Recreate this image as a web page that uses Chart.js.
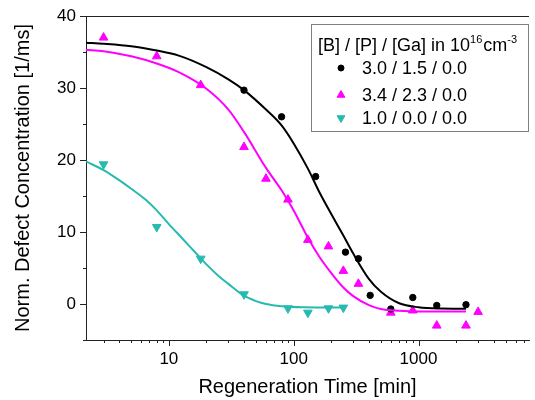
<!DOCTYPE html>
<html>
<head>
<meta charset="utf-8">
<script src="https://cdn.jsdelivr.net/npm/chart.js@4.4.1/dist/chart.umd.min.js"></script>
<style>
  html, body { margin: 0; padding: 0; background: #fff; }
  canvas { display: block; }
</style>
</head>
<body>
<canvas id="chartRegen" width="535" height="400"></canvas>
<script>
// measured points, regeneration time [min] vs norm. defect concentration [1/ms]
var blackT = [40, 80, 150, 260, 330, 410, 600, 900, 1400, 2400];
var blackY = [29.7, 26.0, 17.7, 7.2, 6.3, 1.2, -0.7, 0.9, -0.2, -0.1];

var magT = [3, 8, 18, 40, 60, 90, 130, 190, 250, 330, 600, 900, 1400, 2400, 3000];
var magY = [37.0, 34.4, 30.4, 21.8, 17.4, 14.5, 8.9, 8.0, 4.6, 2.8, -1.2, -0.9, -3.0, -3.0, -1.1];

var cyanT = [3, 8, 18, 40, 90, 130, 190, 250];
var cyanY = [19.4, 10.7, 6.3, 1.35, -0.6, -1.2, -0.6, -0.5];

// fit curves
var blackFitT = [2.17, 3, 5, 8, 12, 20, 30, 40, 60, 80, 100, 130, 160, 200, 250, 300, 400, 500, 700, 1000, 1500, 2400];
var blackFitY = [36.3, 36.15, 35.8, 35.2, 34.5, 32.9, 31.2, 29.7, 27.0, 24.8, 22.3, 18.8, 15.6, 12.5, 9.5, 7.0, 3.5, 1.7, 0.1, -0.45, -0.62, -0.65];

var magFitT = [2.17, 3, 5, 8, 12, 20, 30, 40, 60, 80, 100, 130, 160, 200, 250, 300, 400, 500, 700, 1000, 1500, 2400];
var magFitY = [35.3, 35.1, 34.4, 33.4, 32.2, 29.9, 27.0, 23.9, 18.9, 15.8, 13.0, 9.2, 6.6, 4.3, 2.3, 1.1, -0.15, -0.7, -0.95, -1.05, -1.05, -1.05];

var cyanFitT = [2.17, 3, 4, 5, 6.5, 8, 10, 13, 17, 20, 25, 30, 40, 50, 60, 80, 120, 255];
var cyanFitY = [19.8, 18.6, 17.2, 16.0, 14.5, 13.0, 11.1, 9.0, 6.8, 5.5, 3.9, 2.8, 1.15, 0.4, 0.0, -0.3, -0.45, -0.5];

var seriesNames = ['3.0 / 1.5 / 0.0', '3.4 / 2.3 / 0.0', '1.0 / 0.0 / 0.0'];
var xTickLabels = [10, 100, 1000];

var cBlack = '#000000', cMag = '#FF00FF', cCyan = '#26BAB0';
var fontFam = "'Liberation Sans', Arial, sans-serif";

function pts(xs, ys) {
  return xs.map(function (x, i) { return { x: x, y: ys[i] }; });
}

function fitSet(xs, ys, color) {
  return {
    data: pts(xs, ys), showLine: true, borderColor: color, borderWidth: 2,
    pointRadius: 0, cubicInterpolationMode: 'monotone', fill: false
  };
}

function isWholeStep(v) {
  var p = Math.pow(10, Math.floor(Math.log10(v)));
  return Math.abs(v / p - Math.round(v / p)) < 1e-6;
}

// tick marks (major/minor) and the top frame line
var tickMarks = {
  id: 'tickMarks',
  afterDraw: function (chart) {
    var ctx = chart.ctx, a = chart.chartArea, x = chart.scales.x, y = chart.scales.y;
    ctx.save();
    ctx.strokeStyle = '#222';
    ctx.lineWidth = 1;
    ctx.beginPath();
    ctx.moveTo(a.left, a.top + 0.5);
    ctx.lineTo(a.right, a.top + 0.5);
    y.ticks.forEach(function (t) {
      var py = Math.round(y.getPixelForValue(t.value)) + 0.5;
      var len = t.value % 10 === 0 ? 6 : 3;
      ctx.moveTo(a.left - len, py);
      ctx.lineTo(a.left, py);
    });
    x.ticks.forEach(function (t) {
      if (!isWholeStep(t.value)) return;
      var px = Math.round(x.getPixelForValue(t.value)) + 0.5;
      var len = xTickLabels.indexOf(Math.round(t.value)) >= 0 ? 6 : 3;
      ctx.moveTo(px, a.bottom);
      ctx.lineTo(px, a.bottom + len);
    });
    ctx.stroke();
    ctx.restore();
  }
};

// legend box with a superscript title
var legendBox = {
  id: 'legendBox',
  afterDraw: function (chart) {
    var ctx = chart.ctx;
    var bx = 311, by = 24, bw = 217, bh = 107;
    ctx.save();
    ctx.fillStyle = '#fff';
    ctx.fillRect(bx, by, bw, bh);
    ctx.strokeStyle = '#808080';
    ctx.lineWidth = 1;
    ctx.strokeRect(bx + 0.5, by + 0.5, bw, bh);

    ctx.fillStyle = '#000';
    ctx.textBaseline = 'alphabetic';
    var tx = 318, ty = 51;
    var parts = [['[B] / [P] / [Ga] in 10', 18, 0], ['16', 11, -8], ['cm', 18, 0], ['-3', 11, -8]];
    parts.forEach(function (p) {
      ctx.font = p[1] + 'px ' + fontFam;
      ctx.fillText(p[0], tx, ty + p[2]);
      tx += ctx.measureText(p[0]).width + (p[1] < 18 ? 1 : 0);
    });

    var rows = [68, 95, 118];
    var styles = [
      { pointStyle: 'circle', radius: 3, rotation: 0, color: cBlack },
      { pointStyle: 'triangle', radius: 4.5, rotation: 0, color: cMag },
      { pointStyle: 'triangle', radius: 4.5, rotation: 180, color: cCyan }
    ];
    ctx.font = '18px ' + fontFam;
    ctx.textBaseline = 'middle';
    rows.forEach(function (ry, i) {
      var s = styles[i];
      ctx.fillStyle = s.color;
      ctx.strokeStyle = s.color;
      Chart.helpers.drawPoint(ctx, { pointStyle: s.pointStyle, radius: s.radius, rotation: s.rotation, borderWidth: 1 }, 341, ry);
      ctx.fillStyle = '#000';
      ctx.fillText(seriesNames[i], 362, ry + 1);
    });
    ctx.restore();
  }
};

var ctx = document.getElementById('chartRegen');
var chartRegen = new Chart(ctx, {
  type: 'scatter',
  data: {
    datasets: [
      fitSet(blackFitT, blackFitY, cBlack),
      fitSet(magFitT, magFitY, cMag),
      fitSet(cyanFitT, cyanFitY, cCyan),
      {
        data: pts(blackT, blackY), pointStyle: 'circle', pointRadius: 3.2,
        backgroundColor: cBlack, borderColor: cBlack, borderWidth: 1
      },
      {
        data: pts(magT, magY), pointStyle: 'triangle', pointRadius: 5,
        backgroundColor: cMag, borderColor: cMag, borderWidth: 1
      },
      {
        data: pts(cyanT, cyanY), pointStyle: 'triangle', pointRotation: 180, pointRadius: 5,
        backgroundColor: cCyan, borderColor: cCyan, borderWidth: 1
      }
    ]
  },
  options: {
    responsive: false,
    animation: false,
    layout: { padding: { top: 16, left: 0, right: 0, bottom: 0 } },
    plugins: {
      legend: { display: false },
      tooltip: { enabled: false }
    },
    scales: {
      x: {
        type: 'logarithmic',
        min: 2.17,
        max: 7674,
        afterFit: function (s) { s.height = 60; },
        grid: { display: false, drawTicks: true, tickLength: 6 },
        border: { display: true, color: '#222', width: 1 },
        ticks: {
          autoSkip: false,
          maxRotation: 0,
          padding: 3,
          color: '#000',
          font: { family: fontFam, size: 17 },
          callback: function (v) {
            return xTickLabels.indexOf(Math.round(v)) >= 0 && isWholeStep(v) ? String(Math.round(v)) : '';
          }
        },
        title: {
          display: true,
          text: 'Regeneration Time [min]',
          color: '#000',
          font: { family: fontFam, size: 20 },
          padding: { top: 0, bottom: 1 }
        }
      },
      y: {
        min: -5,
        max: 40,
        afterFit: function (s) { s.width = 86; },
        grid: { display: false, drawTicks: true, tickLength: 6 },
        border: { display: true, color: '#222', width: 1 },
        ticks: {
          stepSize: 5,
          padding: 4,
          color: '#000',
          font: { family: fontFam, size: 17 },
          callback: function (v) { return v % 10 === 0 ? String(v) : ''; }
        },
        title: {
          display: true,
          text: 'Norm. Defect Concentration [1/ms]',
          color: '#000',
          font: { family: fontFam, size: 20 },
          padding: { top: 11, bottom: 0 }
        }
      }
    }
  },
  plugins: [tickMarks, legendBox]
});
</script>
</body>
</html>
